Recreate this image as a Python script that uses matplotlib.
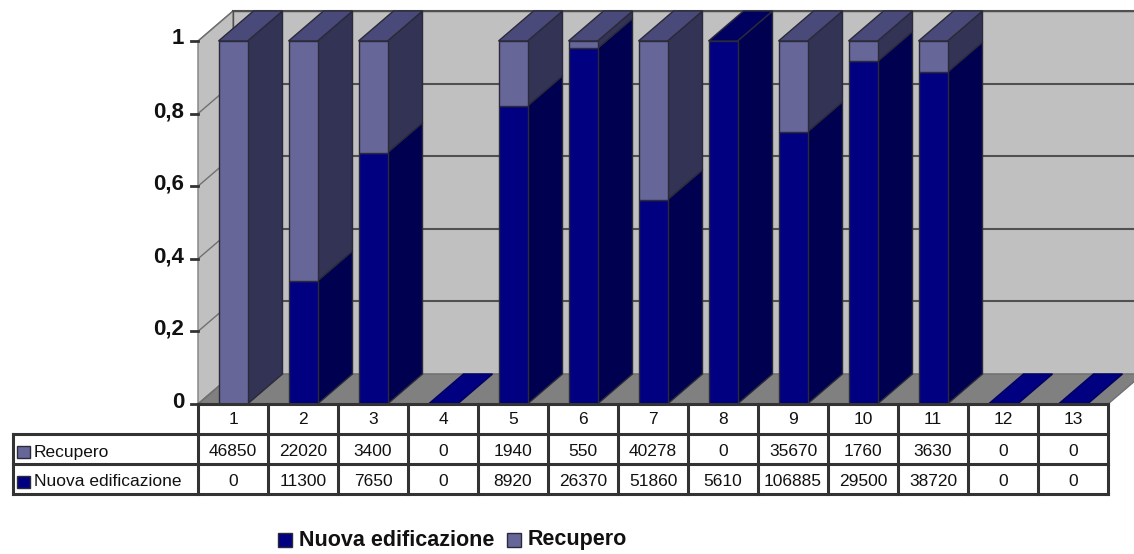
import matplotlib
matplotlib.use('Agg')
import matplotlib.pyplot as plt
from matplotlib.patches import Polygon, Rectangle

categories = ['1', '2', '3', '4', '5', '6', '7', '8', '9', '10', '11', '12', '13']
recupero = [46850, 22020, 3400, 0, 1940, 550, 40278, 0, 35670, 1760, 3630, 0, 0]
nuova = [0, 11300, 7650, 0, 8920, 26370, 51860, 5610, 106885, 29500, 38720, 0, 0]
y_ticks = [0, 0.2, 0.4, 0.6, 0.8, 1]
y_labels = ['0', '0,2', '0,4', '0,6', '0,8', '1']

W, H = 1134, 554
X0, Y0 = 198, 404        # pixel position of the front floor corner
CELL, UNIT = 70, 363     # pixels per category, pixels per 1.0
DX, DY = 35 / CELL, 30 / UNIT   # depth offset in data units
BAR = 29 / CELL

plt.rcParams['font.family'] = ['Liberation Sans', 'DejaVu Sans']

fig = plt.figure(figsize=(W / 100, H / 100), dpi=100, facecolor='white')
ax = fig.add_axes([0, 0, 1, 1])
ax.set_xlim(-X0 / CELL, (W - X0) / CELL)
ax.set_ylim((Y0 - H) / UNIT, Y0 / UNIT)
ax.axis('off')

n = len(categories)
EDGE = '#2a2a3a'
GRID = '#505050'
TEXT = '#111111'


def poly(pts, color, z=1, edge=EDGE, lw=1.0):
    ax.add_patch(Polygon(pts, closed=True, facecolor=color, edgecolor=edge, lw=lw, zorder=z))


# walls and floor
poly([(0, 0), (DX, DY), (DX, 1 + DY), (0, 1)], '#c0c0c0', edge='#808080')
poly([(DX, DY), (n + DX, DY), (n + DX, 1 + DY), (DX, 1 + DY)], '#c0c0c0', edge=GRID)
poly([(0, 0), (n, 0), (n + DX, DY), (DX, DY)], '#808080', edge='#707070')

# gridlines on the side and back wall, ticks on the front edge
for t, lab in zip(y_ticks, y_labels):
    ax.plot([0, DX], [t, t + DY], color='#707070', lw=1.0, zorder=2)
    if t > 0:
        ax.plot([DX, n + DX], [t + DY, t + DY], color=GRID, lw=1.5, zorder=2)
    ax.plot([-7 / CELL, 0], [t, t], color='#333333', lw=2, zorder=2)
    ax.text(-14 / CELL, t + 2 / UNIT, lab, ha='right', va='center', fontsize=16, fontweight='bold', color=TEXT)


def box(i, lo, hi, front, side, top=None):
    l = i + 0.5 - BAR / 2
    r = i + 0.5 + BAR / 2
    z = 3 + (n - i) * 0.01
    poly([(r, lo), (r + DX, lo + DY), (r + DX, hi + DY), (r, hi)], side, z)
    if top is not None:
        poly([(l, hi), (r, hi), (r + DX, hi + DY), (l + DX, hi + DY)], top, z)
    poly([(l, lo), (r, lo), (r, hi), (l, hi)], front, z)


# 100% stacked bars, back-to-front so the depth faces overlap properly
for i in range(n - 1, -1, -1):
    total = nuova[i] + recupero[i]
    l = i + 0.5 - BAR / 2
    r = i + 0.5 + BAR / 2
    if total == 0:
        # empty category: only a flat blue footprint on the floor
        poly([(l, 0), (r, 0), (r + DX, DY), (l + DX, DY)], '#000080', 3, edge='#000060')
        continue
    share = nuova[i] / total
    if share > 0:
        box(i, 0, share, '#000080', '#000050')
    if share < 1:
        box(i, share, 1, '#666699', '#333355', '#4a4a7a')
    else:
        poly([(l, 1), (r, 1), (r + DX, 1 + DY), (l + DX, 1 + DY)], '#000060', 4)

# data table below the plot
row_h = 30 / UNIT
left = -185 / CELL
rows = [('Recupero', recupero, '#666699'), ('Nuova edificazione', nuova, '#000080')]
tc = '#333333'
ax.plot([0, n], [0, 0], color=tc, lw=2.2, zorder=6)
ax.plot([left, n], [-row_h, -row_h], color=tc, lw=2.2)
ax.plot([left, n], [-2 * row_h, -2 * row_h], color=tc, lw=2.2)
ax.plot([left, n], [-3 * row_h, -3 * row_h], color=tc, lw=2.2)
ax.plot([left, left], [-row_h, -3 * row_h], color=tc, lw=2.2)
for i in range(n + 1):
    ax.plot([i, i], [0, -3 * row_h], color=tc, lw=2.2)
for i, c in enumerate(categories):
    ax.text(i + 0.5, -0.5 * row_h, c, ha='center', va='center', fontsize=12.5, color=TEXT)
for r, (name, vals, col) in enumerate(rows):
    yc = -(r + 1.5) * row_h
    ax.add_patch(Rectangle((left + 4 / CELL, yc - 9 / UNIT), 13 / CELL, 12 / UNIT, facecolor=col, edgecolor=EDGE, lw=1.0))
    ax.text(left + 21 / CELL, yc - 3 / UNIT, name, ha='left', va='center', fontsize=12.5, color=TEXT)
    for i, v in enumerate(vals):
        ax.text(i + 0.5, yc - 2 / UNIT, str(v), ha='center', va='center', fontsize=12.5, color=TEXT)

# legend
ly = (Y0 - 540) / UNIT
for x_px, col, name in [(278, '#000080', 'Nuova edificazione'), (507, '#666699', 'Recupero')]:
    ax.add_patch(Rectangle(((x_px - X0) / CELL, ly - 7 / UNIT), 14 / CELL, 14 / UNIT, facecolor=col, edgecolor=EDGE, lw=1.0))
    ax.text((x_px - X0 + 21) / CELL, ly, name, ha='left', va='center', fontsize=15.5, fontweight='bold', color=TEXT)

fig.savefig('out.png', dpi=100)
